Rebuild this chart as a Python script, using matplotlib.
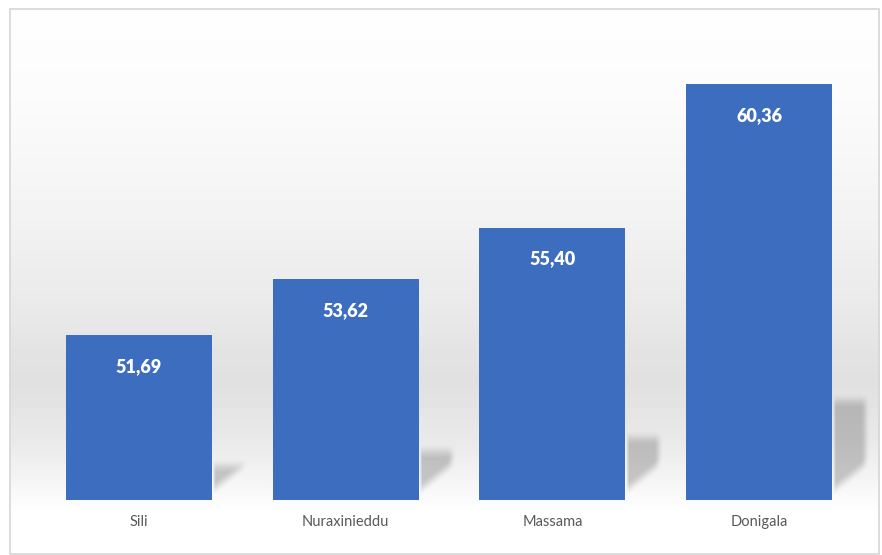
import numpy as np
import matplotlib
matplotlib.use('Agg')
import matplotlib.pyplot as plt
from matplotlib.patches import Rectangle

plt.rcParams['font.family'] = ['Lato', 'DejaVu Sans']

# dati
paesi = ['Sili', 'Nuraxinieddu', 'Massama', 'Donigala']
valori = [51.69, 53.62, 55.40, 60.36]
etichette = ['51,69', '53,62', '55,40', '60,36']

ymin, ymax = 46, 62
bar_w = 0.705
bar_col = '#3d6dbf'

W, H = 882, 555
fig = plt.figure(figsize=(W / 100, H / 100), dpi=100)

# sfondo (coordinate in pixel, y verso il basso)
bg = fig.add_axes([0, 0, 1, 1], zorder=0)
bg.set_xlim(0, W)
bg.set_ylim(H, 0)
bg.axis('off')

# grafico
ax = fig.add_axes([35.5 / W, 55 / H, 827 / W, 463 / H], zorder=1)
ax.patch.set_alpha(0)
ax.set_xlim(-0.5, len(paesi) - 0.5)
ax.set_ylim(ymin, ymax)
x = np.arange(len(paesi))

# sfumatura grigia + ombre, calcolate pixel per pixel
yy, xx = np.mgrid[0:H, 0:W].astype(float)
prof_y = [0, 9, 100, 200, 300, 380, 440, 490, 510, 555]
prof_v = [255, 254, 251, 244, 234, 224, 233, 248, 254, 255]
grey = np.interp(yy, prof_y, prof_v) / 255.0


def smooth(t):
    t = np.clip(t, 0, 1)
    return t * t * (3 - 2 * t)


shade = np.zeros_like(grey)
for xi, v in zip(x, valori):
    xr, yb = ax.transData.transform((xi + bar_w / 2, ymin))
    _, yt = ax.transData.transform((xi, v))
    yb, yt = H - yb, H - yt
    hpx = (yb - yt) * 0.26
    s = 38
    dx = xx - xr
    a = smooth(dx / 4) * smooth((s - dx) / 10)
    a *= smooth((yy - (yb - hpx)) / 16)
    a *= smooth(((yb - 2 - 0.8 * dx) - yy) / 16)
    shade = np.maximum(shade, a)
img = grey * (1 - 0.2 * shade)
img[:9, :] = 1
img[:, :10] = 1
img[:, 880:] = 1
bg.imshow(img, cmap='gray', vmin=0, vmax=1, extent=[0, W, H, 0],
          aspect='auto', interpolation='nearest')
bg.add_patch(Rectangle((10, 9), 869, 545, fill=False, ec='#d6d6d6', lw=1.2))

bars = ax.bar(x, [v - ymin for v in valori], bottom=ymin, width=bar_w,
              color=bar_col, zorder=3)

for xi, v, t in zip(x, valori, etichette):
    ax.text(xi, v - 31 / 28.94, t, ha='center', va='center', color='white',
            fontsize=13, fontweight='heavy', zorder=4)

ax.set_xticks(x)
ax.set_xticklabels(paesi, fontsize=10.5, color='#595959')
ax.tick_params(axis='x', length=0, pad=11)
ax.set_yticks([])
for s in ax.spines.values():
    s.set_visible(False)

fig.savefig('out.png', dpi=100)
